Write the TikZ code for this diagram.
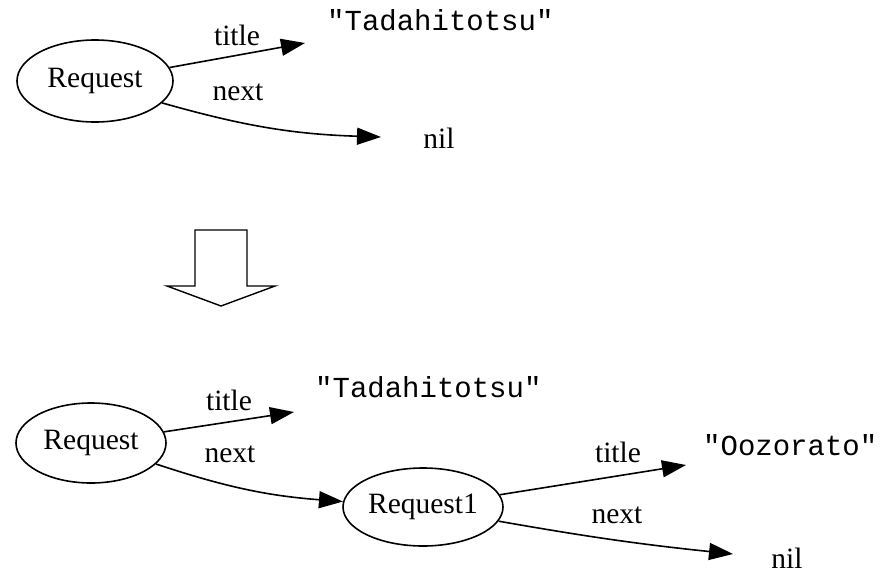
\documentclass[tikz,border=0pt]{standalone}
\usepackage{fontspec}
\setmainfont{Liberation Serif}
\setmonofont{Liberation Mono}
\usetikzlibrary{shapes.geometric,arrows.meta}

\tikzset{
  obj/.style={ellipse, draw, line width=1.6pt, inner sep=0pt,
    font=\fontsize{29.5}{34}\selectfont},
  lbl/.style={anchor=base, inner sep=0pt, font=\fontsize{29.5}{34}\selectfont},
  strval/.style={anchor=base west, inner sep=0pt, font=\ttfamily\fontsize{29}{34}\selectfont},
  link/.style={line width=1.6pt, -{Triangle[length=24pt,width=17pt]}},
}

\begin{document}
\begin{tikzpicture}[x=1pt, y=-1pt]
  \useasboundingbox (0,0) rectangle (886,573);

  % ---- before: a single request ----
  \node[obj, minimum width=156pt, minimum height=82pt] (reqA) at (95,81) {Request};
  \node[strval] (tadaA) at (327,30) {"Tadahitotsu"};
  \node[lbl] (nilA) at (439,148) {nil};
  \coordinate (tadaAtip) at (305,43);
  \coordinate (nilAtip) at (381,137);
  \draw[link] (reqA) -- (tadaAtip);
  \draw[link] (reqA) to[bend right=7] (nilAtip);
  \node[lbl] (titleA) at (237,45) {title};
  \node[lbl] (nextA) at (238,100) {next};

  % ---- hollow down arrow ----
  \draw[line width=1.4pt, line join=miter]
    (195,230) -- (247,230) -- (247,286) -- (275,286) -- (221,306)
    -- (167,286) -- (195,286) -- cycle;

  % ---- after: request chained to a second request ----
  \node[obj, minimum width=150pt, minimum height=80pt] (reqB) at (91,443) {Request};
  \node[obj, minimum width=160pt, minimum height=78pt] (reqC) at (423,507) {Request1};
  \node[strval] (tadaB) at (315,397) {"Tadahitotsu"};
  \node[strval] (oozo) at (703,455) {"Oozorato"};
  \node[lbl] (nilB) at (787,568) {nil};
  \coordinate (tadaBtip) at (294,412);
  \coordinate (oozotip) at (686,465);
  \coordinate (nilBtip) at (733,554);

  \draw[link] (reqB) -- (tadaBtip);
  \draw[link] (reqB) to[bend right=7] (reqC);
  \draw[link] (reqC) -- (oozotip);
  \draw[link] (reqC) to[bend right=2] (nilBtip);

  \node[lbl] (titleB) at (229,410) {title};
  \node[lbl] (nextB) at (230,462) {next};
  \node[lbl] (titleC) at (618,462) {title};
  \node[lbl] (nextC) at (617,523) {next};
\end{tikzpicture}
\end{document}
